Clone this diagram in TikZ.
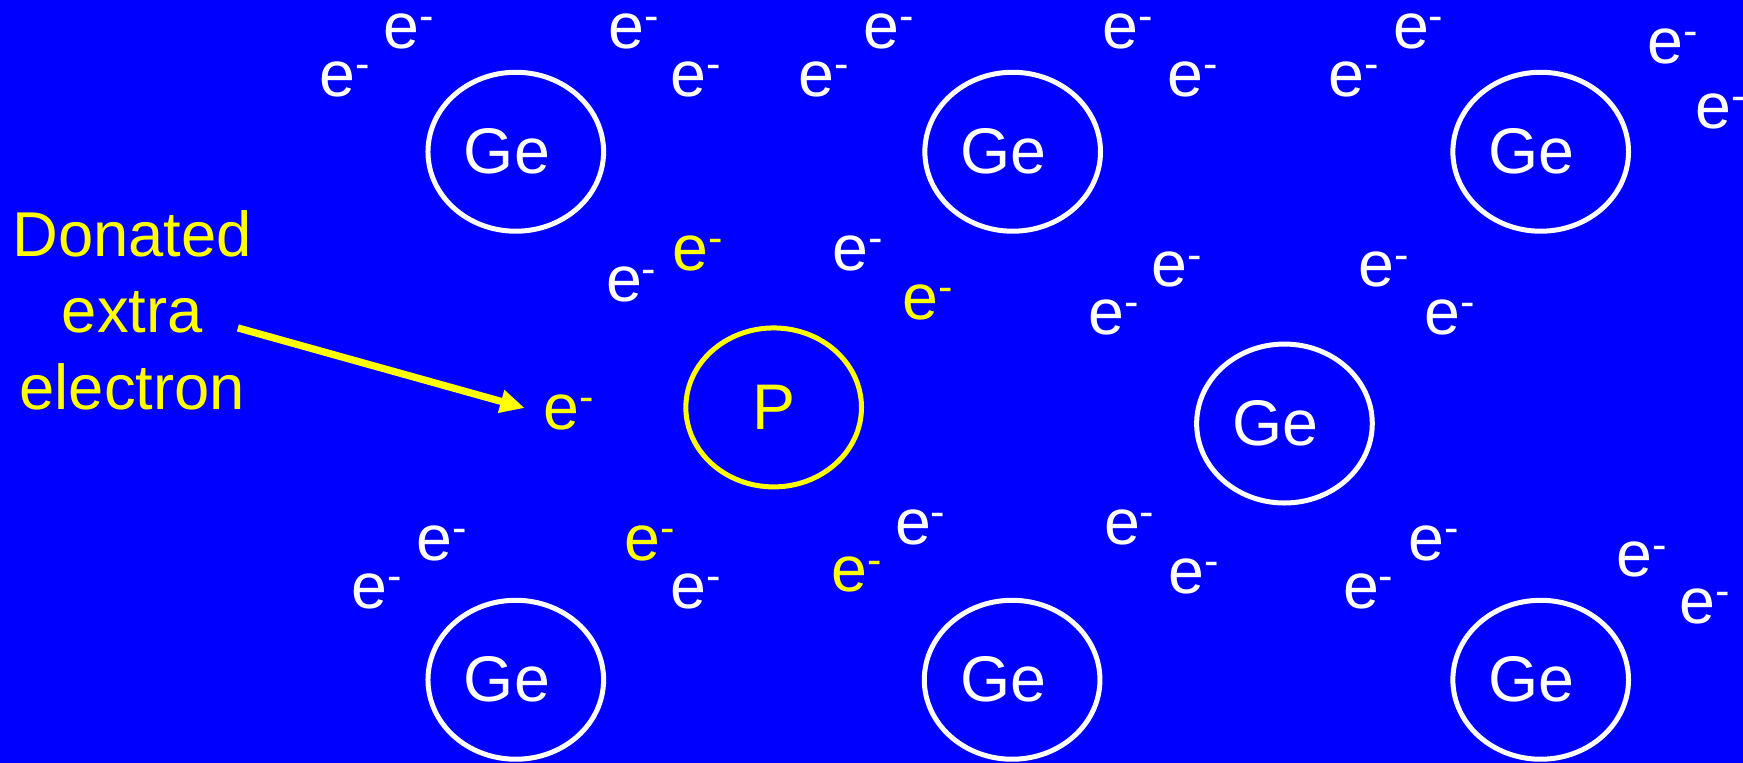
\documentclass[tikz,border=0pt]{standalone}
\usepackage{fontspec}
\setmainfont{Liberation Sans}
\usetikzlibrary{shapes.geometric,arrows.meta,calc}
\definecolor{bgblue}{RGB}{0,0,255}
\definecolor{ylw}{RGB}{255,255,0}
\newcommand\myelec{e\raisebox{16pt}[0pt][0pt]{\fontsize{39}{39}\selectfont -}}
\begin{document}
\begin{tikzpicture}[x=1pt,y=-1pt,
  bigfont/.style={font=\fontsize{58}{69}\selectfont},
  atom/.style={ellipse, draw=white, line width=4.5pt, minimum width=158pt, minimum height=143pt, inner sep=0pt},
  patom/.style={atom, draw=ylw},
  getxt/.style={bigfont, text=white, xshift=-8pt},
  ptxt/.style={bigfont, text=ylw},
  elw/.style={bigfont, anchor=base west, xshift=-16pt, inner sep=0pt, text=white},
  ely/.style={elw, text=ylw},
  donarrow/.style={draw=ylw, line width=6.5pt, -{Triangle[length=22pt,width=20pt]}}
]
\fill[bgblue] (0,0) rectangle (1568,686);
\useasboundingbox (0,0) rectangle (1568,686);

% atoms
\node[atom, label={[getxt]center:Ge}] (g1) at (464,136.5) {};
\node[atom, label={[getxt]center:Ge}] (g2) at (911,136.5) {};
\node[atom, label={[getxt]center:Ge}] (g3) at (1386,136.5) {};
\node[atom, label={[getxt]center:Ge}] (g4) at (1155.5,381) {};
\node[atom, label={[getxt]center:Ge}] (g5) at (464,611.5) {};
\node[atom, label={[getxt]center:Ge}] (g6) at (910.5,611.5) {};
\node[atom, label={[getxt]center:Ge}] (g7) at (1386,611.5) {};
\node[patom, label={[ptxt]center:P}] (p) at (696,366.5) {};

% electrons, top
\node[elw] (e1) at (361,43.5) {\myelec};
\node[elw] (e2) at (303.5,87) {\myelec};
\node[elw] (e3) at (563,43.5) {\myelec};
\node[elw] (e4) at (619,87) {\myelec};
\node[elw] (e5) at (734.5,87) {\myelec};
\node[elw] (e6) at (793,43.5) {\myelec};
\node[elw] (e7) at (1008,43.5) {\myelec};
\node[elw] (e8) at (1066,87) {\myelec};
\node[elw] (e9) at (1211,87) {\myelec};
\node[elw] (e10) at (1269,43.5) {\myelec};
\node[elw] (e11) at (1498,57) {\myelec};
\node[elw] (e12) at (1541,115.5) {\myelec};
% middle upper
\node[elw] (e13) at (561,271) {\myelec};
\node[ely] (e14) at (621,243) {\myelec};
\node[elw] (e15) at (765,243) {\myelec};
\node[ely] (e16) at (828,287) {\myelec};
\node[elw] (e17) at (995,301) {\myelec};
\node[elw] (e18) at (1052,258) {\myelec};
\node[elw] (e19) at (1238,258) {\myelec};
\node[elw] (e20) at (1297,301) {\myelec};
% donated
\node[ely] (e21) at (505,386) {\myelec};
% lower
\node[elw] (e22) at (390.5,504) {\myelec};
\node[elw] (e23) at (332,547) {\myelec};
\node[ely] (e24) at (578,504) {\myelec};
\node[elw] (e25) at (619,547) {\myelec};
\node[ely] (e26) at (764,532.5) {\myelec};
\node[elw] (e27) at (821,490) {\myelec};
\node[elw] (e28) at (1009,490) {\myelec};
\node[elw] (e29) at (1067,534) {\myelec};
\node[elw] (e30) at (1224,547) {\myelec};
\node[elw] (e31) at (1283,504) {\myelec};
\node[elw] (e32) at (1470,519) {\myelec};
\node[elw] (e33) at (1527,561) {\myelec};

% label and arrow
\node[font=\fontsize{57}{69}\selectfont, text=ylw, align=center, inner sep=0pt] (lab) at (119,279) {Donated\\extra\\electron};
\coordinate (astart) at (214,295);
\draw[donarrow] (astart) -- ($(e21.base west)+(-17,-19)$);
\end{tikzpicture}
\end{document}
